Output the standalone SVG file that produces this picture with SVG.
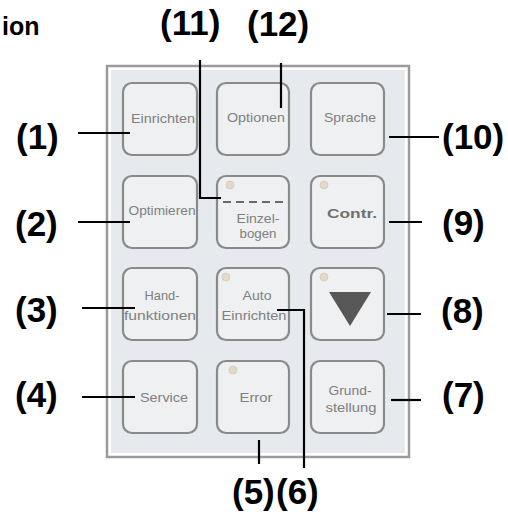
<svg xmlns="http://www.w3.org/2000/svg" width="508" height="517" viewBox="0 0 508 517">
<defs>
<filter id="soft" x="-5%" y="-5%" width="110%" height="110%"><feGaussianBlur stdDeviation="0.6"/></filter>
<style>
.lbl{font-family:"Liberation Sans",Arial,sans-serif;font-weight:bold;font-size:35px;fill:#000}
.btn{fill:#eef0f2;stroke:#8a8a8a;stroke-width:2.2;filter:url(#soft)}
.bt{font-family:"Liberation Sans",Arial,sans-serif;font-size:13px;fill:#808080;text-anchor:middle}
.led{fill:#e4d8ca;stroke:#d6cabb;stroke-width:0.8}
.con{fill:none;stroke:#000;stroke-width:2.2}
</style>
</defs>
<rect width="508" height="517" fill="#fff"/>
<text class="lbl" x="2" y="35" style="font-size:25px">ion</text>

<g id="panel">
<rect x="107" y="66" width="302" height="391" fill="#fff" stroke="#9b9b9b" stroke-width="2.5"/>
<rect x="111" y="70" width="294" height="383" fill="#e6eaee"/>
</g>

<g id="btn-einrichten">
<rect class="btn" x="123" y="83" width="74" height="72" rx="9"/>
<text class="bt" x="163" y="123" textLength="64" lengthAdjust="spacingAndGlyphs">Einrichten</text>
</g>
<g id="btn-optionen">
<rect class="btn" x="217" y="83" width="72" height="72" rx="9"/>
<text class="bt" x="256" y="122" textLength="58" lengthAdjust="spacingAndGlyphs">Optionen</text>
</g>
<g id="btn-sprache">
<rect class="btn" x="311" y="83" width="73" height="72" rx="9"/>
<text class="bt" x="350" y="122" textLength="52" lengthAdjust="spacingAndGlyphs">Sprache</text>
</g>
<g id="btn-optimieren">
<rect class="btn" x="123" y="176" width="74" height="72" rx="9"/>
<text class="bt" x="162" y="215" textLength="67" lengthAdjust="spacingAndGlyphs">Optimieren</text>
</g>
<g id="btn-einzelbogen">
<rect class="btn" x="217" y="176" width="72" height="72" rx="9"/>
<circle class="led" cx="230" cy="185" r="4"/>
<line x1="223" y1="202" x2="288" y2="202" stroke="#6a6a6a" stroke-width="2" stroke-dasharray="8,5"/>
<text class="bt" x="258" y="223" textLength="43" lengthAdjust="spacingAndGlyphs">Einzel-</text>
<text class="bt" x="258" y="238" textLength="37" lengthAdjust="spacingAndGlyphs">bogen</text>
</g>
<g id="btn-contr">
<rect class="btn" x="311" y="176" width="73" height="72" rx="9"/>
<circle class="led" cx="324" cy="185" r="4"/>
<text class="bt" x="352" y="218" textLength="50" lengthAdjust="spacingAndGlyphs" style="font-weight:bold;fill:#707070">Contr.</text>
</g>
<g id="btn-handfunktionen">
<rect class="btn" x="123" y="268" width="74" height="72" rx="9"/>
<text class="bt" x="162" y="300" textLength="35" lengthAdjust="spacingAndGlyphs">Hand-</text>
<text class="bt" x="160" y="320" textLength="72" lengthAdjust="spacingAndGlyphs">funktionen</text>
</g>
<g id="btn-autoeinrichten">
<rect class="btn" x="217" y="268" width="72" height="72" rx="9"/>
<circle class="led" cx="226" cy="277" r="4"/>
<text class="bt" x="257" y="300" textLength="29" lengthAdjust="spacingAndGlyphs">Auto</text>
<text class="bt" x="254" y="320" textLength="65" lengthAdjust="spacingAndGlyphs">Einrichten</text>
</g>
<g id="btn-down">
<rect class="btn" x="311" y="268" width="73" height="72" rx="9"/>
<circle class="led" cx="324" cy="277" r="4"/>
<polygon points="329,292 371,292 350,326" fill="#575757"/>
</g>
<g id="btn-service">
<rect class="btn" x="123" y="361" width="74" height="72" rx="9"/>
<text class="bt" x="164" y="402" textLength="48" lengthAdjust="spacingAndGlyphs">Service</text>
</g>
<g id="btn-error">
<rect class="btn" x="217" y="361" width="72" height="72" rx="9"/>
<circle class="led" cx="233" cy="370" r="4"/>
<text class="bt" x="256" y="402" textLength="33" lengthAdjust="spacingAndGlyphs">Error</text>
</g>
<g id="btn-grundstellung">
<rect class="btn" x="311" y="361" width="73" height="72" rx="9"/>
<text class="bt" x="350" y="395" textLength="43" lengthAdjust="spacingAndGlyphs">Grund-</text>
<text class="bt" x="351" y="412" textLength="51" lengthAdjust="spacingAndGlyphs">stellung</text>
</g>

<g id="connectors">
<line class="con" x1="78" y1="133" x2="130" y2="133"/>
<line class="con" x1="78" y1="222" x2="130" y2="222"/>
<line class="con" x1="82" y1="308" x2="135" y2="308"/>
<line class="con" x1="82" y1="397" x2="135" y2="397"/>
<line class="con" x1="389" y1="137" x2="439" y2="137"/>
<line class="con" x1="389" y1="222" x2="422" y2="222"/>
<line class="con" x1="387" y1="314" x2="421" y2="314"/>
<line class="con" x1="391" y1="400" x2="421" y2="400"/>
<polyline class="con" points="200,60 200,198 221,198"/>
<line class="con" x1="281" y1="63" x2="281" y2="108"/>
<polyline class="con" points="277,310 304,310 304,468"/>
<line class="con" x1="259" y1="440" x2="259" y2="464"/>
</g>

<g id="labels">
<text class="lbl" x="16" y="149">(1)</text>
<text class="lbl" x="15" y="236">(2)</text>
<text class="lbl" x="15" y="322">(3)</text>
<text class="lbl" x="15" y="407">(4)</text>
<text class="lbl" x="232" y="504">(5)</text>
<text class="lbl" x="276" y="504">(6)</text>
<text class="lbl" x="442" y="407">(7)</text>
<text class="lbl" x="441" y="323">(8)</text>
<text class="lbl" x="442" y="235">(9)</text>
<text class="lbl" x="442" y="149">(10)</text>
<text class="lbl" x="160" y="35">(11)</text>
<text class="lbl" x="247" y="36">(12)</text>
</g>
</svg>
